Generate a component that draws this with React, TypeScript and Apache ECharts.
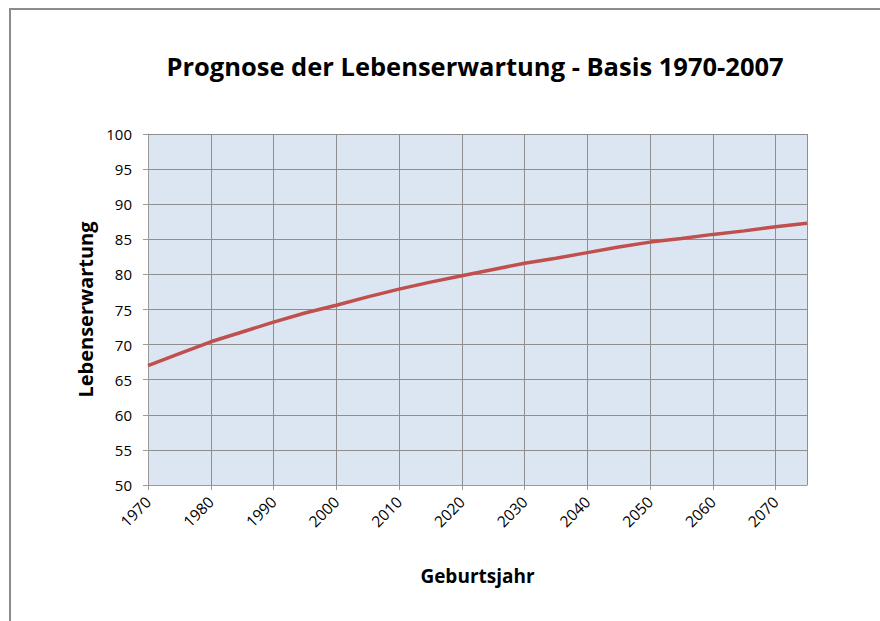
import React, { useEffect, useRef } from "react";
import * as echarts from "echarts";

const years = [1970, 1975, 1980, 1985, 1990, 1995, 2000, 2005, 2010, 2015, 2020, 2025, 2030, 2035, 2040, 2045, 2050, 2055, 2060, 2065, 2070, 2075];
const lifeExpectancy = [67.0, 68.7, 70.4, 71.8, 73.2, 74.5, 75.6, 76.8, 77.9, 78.9, 79.8, 80.7, 81.6, 82.3, 83.1, 83.9, 84.6, 85.1, 85.7, 86.2, 86.8, 87.3];

const titleText = "Prognose der Lebenserwartung - Basis 1970-2007";
const xName = "Geburtsjahr";
const yName = "Lebenserwartung";

export default function App() {
  const ref = useRef<HTMLDivElement>(null);
  useEffect(() => {
    document.body.style.margin = "0";
    const chart = echarts.init(ref.current!, null, { renderer: "svg" });
    const font = "'Open Sans', 'Noto Sans', sans-serif";
    chart.setOption({
      animation: false,
      backgroundColor: "#ffffff",
      title: {
        text: titleText,
        left: 470,
        textAlign: "center",
        top: 48,
        textStyle: { fontFamily: font, fontWeight: "bold", fontSize: 25.5, color: "#000" },
      },
      graphic: [
        {
          type: "rect",
          shape: { x: 10, y: 9, width: 900, height: 700 },
          style: { fill: "none", stroke: "#8c8c8c", lineWidth: 2 },
          z: 100,
        },
      ],
      grid: { left: 148, top: 134, right: 73, bottom: 136, show: true, backgroundColor: "#dce6f2", borderWidth: 0 },
      xAxis: {
        type: "value",
        min: 1970,
        max: 2075,
        interval: 10,
        name: xName,
        nameLocation: "middle",
        nameGap: 81,
        nameTextStyle: { fontFamily: font, fontWeight: "bold", fontSize: 19, color: "#000" },
        axisLine: { show: true, lineStyle: { color: "#9a9a9a", width: 1 } },
        axisTick: { show: true, length: 5, lineStyle: { color: "#9a9a9a" } },
        axisLabel: {
          rotate: 45,
          fontFamily: font,
          fontSize: 15.5,
          color: "#000",
          margin: 14,
          showMaxLabel: false,
          formatter: (v: number) => (v % 10 === 0 ? String(v) : ""),
        },
        splitLine: { show: true, lineStyle: { color: "#8e8e8e", width: 1 } },
      },
      yAxis: {
        type: "value",
        min: 50,
        max: 100,
        interval: 5,
        name: yName,
        nameLocation: "middle",
        nameGap: 53,
        nameTextStyle: { fontFamily: font, fontWeight: "bold", fontSize: 20, color: "#000" },
        axisLine: { show: true, lineStyle: { color: "#9a9a9a", width: 1 } },
        axisTick: { show: true, length: 5, lineStyle: { color: "#9a9a9a" } },
        axisLabel: { fontFamily: font, fontSize: 15, color: "#000", margin: 16 },
        splitLine: { show: true, lineStyle: { color: "#8e8e8e", width: 1 } },
      },
      series: [
        {
          type: "line",
          data: years.map((y, i) => [y, lifeExpectancy[i]]),
          showSymbol: false,
          smooth: false,
          lineStyle: { color: "#c0504d", width: 3.5 },
          itemStyle: { color: "#c0504d" },
        },
      ],
    });
    return () => chart.dispose();
  }, []);
  return <div ref={ref} style={{ position: "absolute", left: 0, top: 0, width: 880, height: 621 }} />;
}
